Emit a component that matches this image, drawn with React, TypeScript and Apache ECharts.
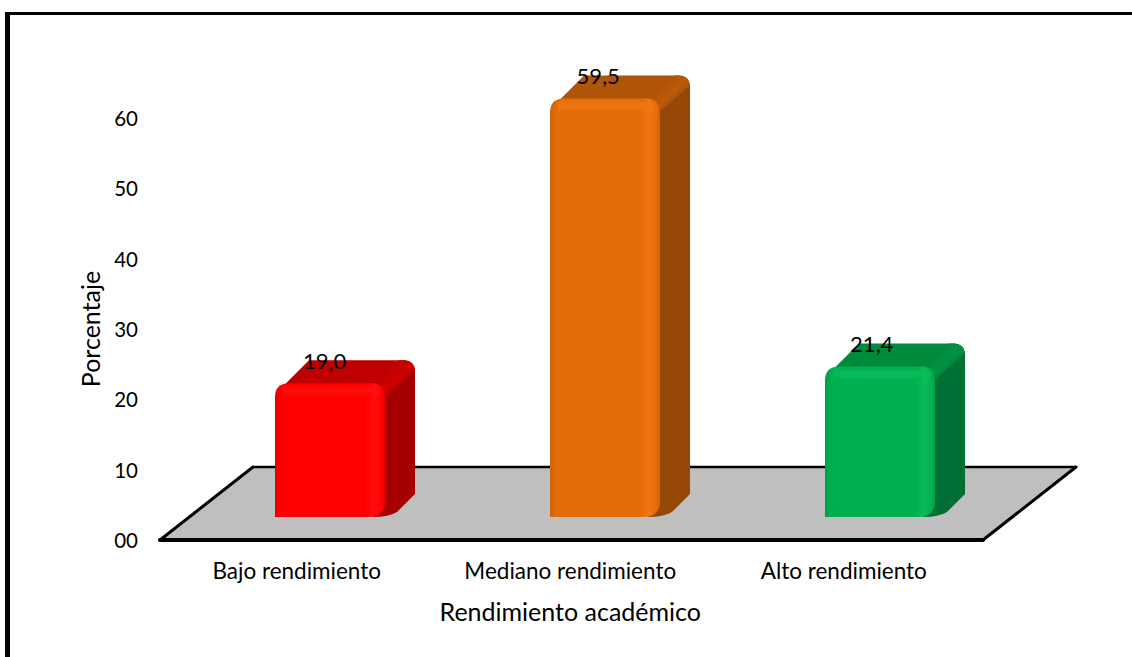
import React, { useEffect, useRef } from "react";
import * as echarts from "echarts";

const categories = ["Bajo rendimiento", "Mediano rendimiento", "Alto rendimiento"];
const values = [19.0, 59.5, 21.4];
const labels = ["19,0", "59,5", "21,4"];
const yTicks = [0, 60];
const frontColors = ["#ff0000", "#e36c0a", "#00b050"];
const lightColors = ["#ff1010", "#f27710", "#08bc58"];
const darkColors = ["#e60000", "#cf6209", "#009e47"];
const topColors = ["#c00000", "#b05408", "#008a3e"];
const topEdgeColors = ["#d00000", "#bb5a09", "#009343"];
const sideColors = ["#a60000", "#974806", "#006f35"];
const FONT = "Lato";

export default function App() {
  const ref = useRef<HTMLDivElement>(null);
  useEffect(() => {
    document.body.style.margin = "0";
    const chart = echarts.init(ref.current!, null, { renderer: "svg" });
    const renderFloor = (params: any, api: any) => {
      const cs = params.coordSys;
      const y0 = api.coord([0, 0])[1];
      const x0 = cs.x, x1 = cs.x + cs.width + 2.5;
      const dx = 93, dy = 73;
      const ln = (a: number[], b: number[], lineWidth: number) => ({
        type: "polyline", shape: { points: [a, b] }, style: { fill: "none", stroke: "#000", lineWidth, lineCap: "round" },
      });
      return {
        type: "group",
        children: [
          { type: "polygon", shape: { points: [[x0, y0], [x1, y0], [x1 + dx, y0 - dy], [x0 + dx, y0 - dy]] },
            style: { fill: "#bfbfbf", stroke: "none" } },
          ln([x0 + dx, y0 - dy], [x1 + dx, y0 - dy], 2.5),
          ln([x0 + dx, y0 - dy], [x0, y0], 3),
          ln([x1 + dx, y0 - dy], [x1, y0], 3),
          ln([x0, y0], [x1, y0], 4),
        ],
      };
    };
    const renderBar = (params: any, api: any) => {
      const i = api.value(0);
      const v = api.value(1);
      const cx = api.coord([i, 0])[0];
      const zero = api.coord([0, 0])[1];
      const base = zero - 23;
      const top = base - (zero - api.coord([0, v])[1]);
      const w = 110;
      const left = cx - 20.25 + (i - 1) * 1.5, right = left + w;
      const dx = 30, dy = 23, r = 14;
      const side = `M${right - 10} ${top + 3} L${right + dx - 12} ${top - dy} Q${right + dx} ${top - dy} ${right + dx} ${top - dy + 12} L${right + dx} ${base - dy} L${right + 12} ${base - 5} Q${right + 4} ${base} ${right - 12} ${base} Z`;
      const topFace = `M${left + 6} ${top + 5} L${left + dx + 4} ${top - dy} L${right + dx - 12} ${top - dy} Q${right + dx - 2} ${top - dy} ${right + dx - 1} ${top - dy + 8} L${right} ${top + 8} Z`;
      const cornerBand = `M${right - 6} ${top + 1} L${right + dx - 16} ${top - dy} L${right + dx - 12} ${top - dy} Q${right + dx - 1} ${top - dy} ${right + dx} ${top - dy + 10} L${right + 1} ${top + 12} Z`;
      const front = `M${left} ${base} L${left} ${top + r} Q${left} ${top} ${left + r} ${top} L${right - r} ${top} Q${right} ${top} ${right} ${top + r} L${right} ${base - 12} Q${right - 3} ${base} ${right - r - 2} ${base} Z`;
      const grad = new echarts.graphic.LinearGradient(0, 0, 1, 0, [
        { offset: 0, color: darkColors[i] }, { offset: 0.06, color: frontColors[i] }, { offset: 0.82, color: frontColors[i] },
        { offset: 0.9, color: lightColors[i] }, { offset: 0.97, color: frontColors[i] }, { offset: 1, color: darkColors[i] },
      ]);
      const band = new echarts.graphic.LinearGradient(0, 0, 0, 1, [
        { offset: 0, color: frontColors[i] }, { offset: 0.5, color: lightColors[i] }, { offset: 1, color: frontColors[i] },
      ]);
      const bevel = new echarts.graphic.LinearGradient(0, 0, 1, 1, [
        { offset: 0.25, color: topColors[i] }, { offset: 0.5, color: topEdgeColors[i] }, { offset: 0.8, color: sideColors[i] },
      ]);
      return {
        type: "group",
        children: [
          { type: "path", shape: { pathData: side }, style: { fill: sideColors[i] } },
          { type: "path", shape: { pathData: topFace }, style: { fill: topColors[i] } },
          { type: "path", shape: { pathData: cornerBand }, style: { fill: bevel } },
          { type: "path", shape: { pathData: front }, style: { fill: grad } },
          { type: "rect", shape: { x: left + r - 6, y: top + 1, width: w - 2 * r + 6, height: 13 }, style: { fill: band } },
          { type: "circle", shape: { cx: right - 9, cy: top + 9, r: 4 }, style: { fill: lightColors[i] } },
          { type: "text", x: cx + 28, y: top - 23, style: { text: labels[i], fill: "#000", font: `22px ${FONT}`, align: "center", verticalAlign: "middle" } },
        ],
      };
    };
    chart.setOption({
      animation: false,
      backgroundColor: "#fff",
      grid: { left: 160, right: 151.5, top: 118, bottom: 117 },
      xAxis: {
        type: "category", data: categories,
        axisLine: { show: false }, axisTick: { show: false },
        axisLabel: { color: "#000", fontFamily: FONT, fontSize: 22.5, margin: 19, interval: 0, hideOverlap: false },
        name: "Rendimiento académico", nameLocation: "middle", nameGap: 58,
        nameTextStyle: { color: "#000", fontFamily: FONT, fontSize: 25 },
      },
      yAxis: {
        type: "value", min: yTicks[0], max: yTicks[1], interval: 10,
        splitLine: { show: false }, axisLine: { show: false }, axisTick: { show: false },
        axisLabel: { color: "#000", fontFamily: FONT, fontSize: 20.5, margin: 22, formatter: (v: number) => String(v).padStart(2, "0"), lineHeight: 23, padding: [4, 0, 0, 0] },
        name: "Porcentaje", nameLocation: "middle", nameGap: 58,
        nameTextStyle: { color: "#000", fontFamily: FONT, fontSize: 25 },
      },
      graphic: [
        { type: "rect", shape: { x: 5, y: 12, width: 5, height: 645 }, style: { fill: "#000" }, z: 100 },
        { type: "rect", shape: { x: 5, y: 12, width: 1127, height: 3 }, style: { fill: "#000" }, z: 100 },
      ],
      series: [
        { type: "custom", renderItem: renderFloor, data: [[0, 0]], clip: false, z: 1, silent: true },
        { type: "custom", renderItem: renderBar, data: values.map((v, i) => [i, v]), clip: false, z: 2, silent: true, encode: { x: 0, y: 1 } },
      ],
    });
    return () => chart.dispose();
  }, []);
  return <div ref={ref} style={{ width: 1132, height: 657 }} />;
}
